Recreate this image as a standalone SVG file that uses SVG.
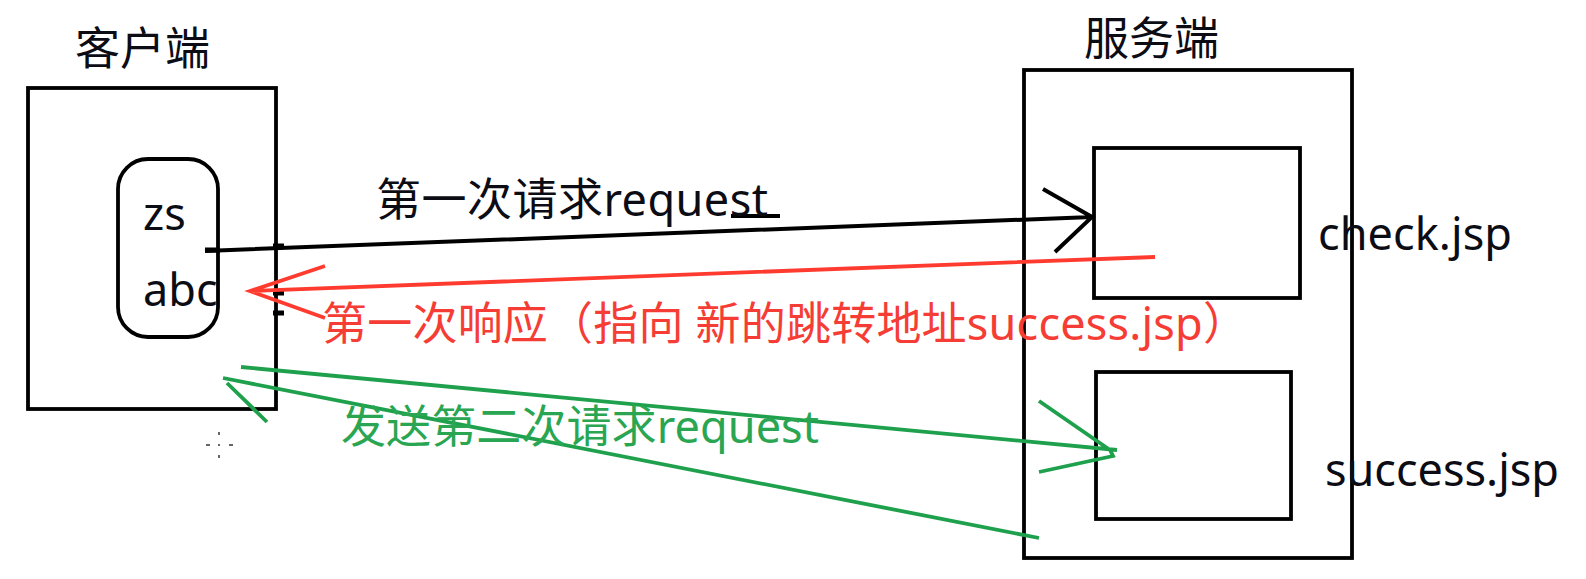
<svg xmlns="http://www.w3.org/2000/svg" width="1586" height="579" viewBox="0 0 1586 579">
<style>
text{font-family:"Noto Sans","Noto Sans CJK SC",sans-serif;font-size:45px;fill:#0c0c14}
.box{fill:none;stroke:#000;stroke-width:3.8}
.k{fill:none;stroke:#000;stroke-width:4}
.t{fill:none;stroke:#000;stroke-width:5}
.r{fill:none;stroke:#ff3b30;stroke-width:3.8}
.g{fill:none;stroke:#1ea04c;stroke-width:3.8}
.rt{fill:#f63d35}
.gt{fill:#2aa652}
.d{fill:#666}
</style>
<rect width="1586" height="579" fill="#fff"/>
<g id="client"><rect class="box" x="28" y="88" width="248" height="321"/><text x="75" y="65" textLength="135">客户端</text></g>
<g id="form"><text x="143" y="230">zs</text><text x="143" y="306">abc</text><rect class="box" x="118" y="159" width="100" height="178" rx="30"/></g>
<g id="server"><rect class="box" x="1024" y="70" width="328" height="488"/><text x="1084" y="55" textLength="135">服务端</text></g>
<g id="check"><rect class="box" x="1094" y="148" width="206" height="150"/><text x="1318" y="250" textLength="194">check.jsp</text></g>
<g id="success"><rect class="box" x="1096" y="372" width="195" height="147"/><text x="1325" y="486" textLength="234">success.jsp</text></g>
<g id="connectors">
<path class="k" d="M205 251L1092 217M1043 189L1092 217L1055 252M731 216H780"/>
<path class="t" d="M205 250H220M273 246H284M273 293H284M273 313H284"/>
<path class="r" d="M1155 257L250 291M325 266L250 291L325 318"/>
<path class="g" d="M241 367L1117 450M1039 401L1110 450L1113 456L1039 472M1039 538L223 378M227 383L267 422"/>
</g>
<g id="marks">
<rect class="d" x="218" y="432" width="2" height="3"/><rect class="d" x="218" y="444" width="2" height="2"/><rect class="d" x="218" y="455" width="2" height="3"/><rect class="d" x="206" y="444" width="4" height="2"/><rect class="d" x="229" y="444" width="4" height="2"/>
</g>
<g id="labels">
<text x="376" y="216" textLength="392">第一次请求request</text>
<text class="rt" x="322" y="340" textLength="926">第一次响应（指向 新的跳转地址success.jsp）</text>
<text class="gt" x="341" y="443" textLength="478">发送第二次请求request</text>
</g>
</svg>
